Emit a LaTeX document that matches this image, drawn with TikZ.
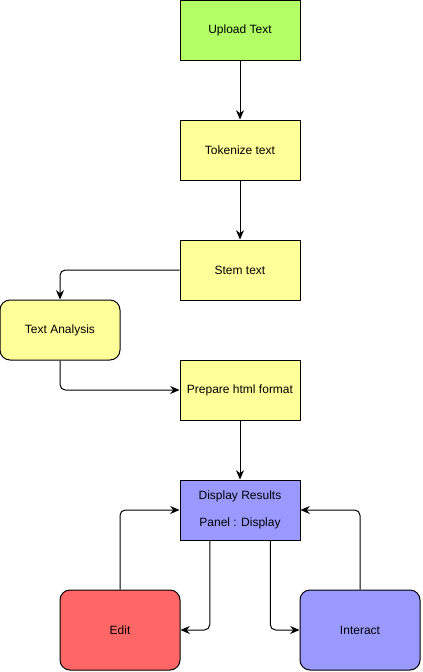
\documentclass[tikz,border=0pt]{standalone}
\usepackage{fontspec}
\setmainfont{Liberation Sans}
\usetikzlibrary{calc,arrows.meta}
\definecolor{lime}{HTML}{B3FF66}
\definecolor{pale}{HTML}{FFFF99}
\definecolor{lilac}{HTML}{9999FF}
\definecolor{coral}{HTML}{FF6666}
\tikzset{
  box/.style={draw=black, line width=0.75pt, minimum width=90pt, minimum height=45pt, inner sep=0pt, font=\fontsize{9}{11}\selectfont, align=center},
  rbox/.style={box, rounded corners=7.5pt},
  flow/.style={draw=black, line width=0.75pt, line join=round, -{Stealth[length=7pt,width=6pt]}, rounded corners=4pt},
}

\begin{document}
\begin{tikzpicture}[x=0.75pt, y=-0.75pt]
  \useasboundingbox (0,0) rectangle (422,672);

  \node[box, fill=lime] (upload) at (240,30) {Upload Text};
  \node[box, fill=pale] (token) at (240,150) {Tokenize text};
  \node[box, fill=pale] (stem) at (240,270) {Stem text};
  \node[rbox, fill=pale] (analysis) at (60,330) {Text Analysis};
  \node[box, fill=pale] (html) at (240,390) {Prepare html format};
  \node[box, fill=lilac] (disp) at (240,510) {Display Results\\[9pt]Panel : Display};
  \node[rbox, fill=coral, minimum height=60pt] (edit) at (120,630) {Edit};
  \node[rbox, fill=lilac, minimum height=60pt] (inter) at (360,630) {Interact};

  \coordinate (dl) at ($(disp.south west)!0.25!(disp.south east)$);
  \coordinate (dr) at ($(disp.south west)!0.75!(disp.south east)$);

  \draw[flow] (upload) -- (token);
  \draw[flow] (token) -- (stem);
  \draw[flow] (stem.west) -| (analysis.north);
  \draw[flow] (analysis.south) |- (html.west);
  \draw[flow] (html) -- (disp);
  \draw[flow] (edit.north) |- (disp.west);
  \draw[flow] (inter.north) |- (disp.east);
  \draw[flow] (dl) |- (edit.east);
  \draw[flow] (dr) |- (inter.west);
\end{tikzpicture}
\end{document}
